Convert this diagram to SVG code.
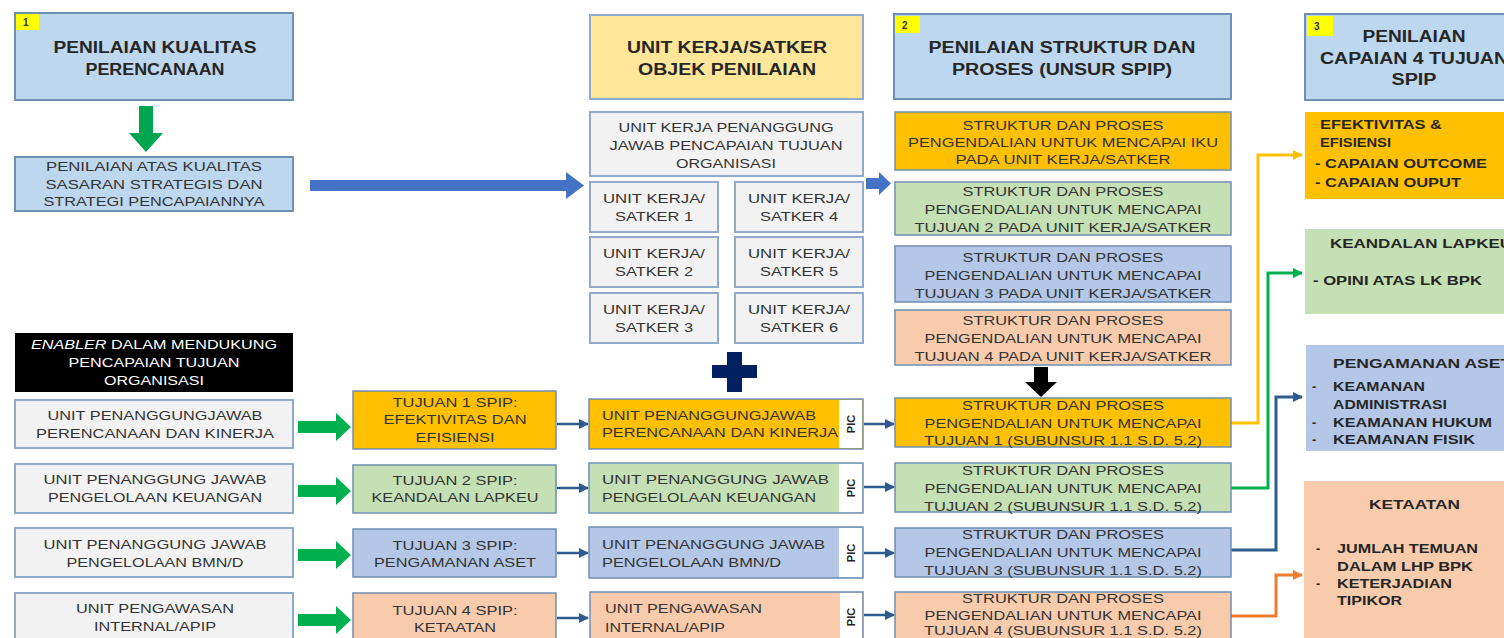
<svg xmlns="http://www.w3.org/2000/svg" width="1504" height="638" viewBox="0 0 1504 638">
<style>
.hb{fill:#BDD7EE;stroke:#6F8FB4;stroke-width:2}
.gd{fill:#FFE699;stroke:#8FAACC;stroke-width:2}
.gr{fill:#F2F2F2;stroke:#8FAACC;stroke-width:2}
.or{fill:#FFC000;stroke:#6F8FB4;stroke-width:1.5}
.gn{fill:#C5E0B4;stroke:#6F8FB4;stroke-width:1.5}
.bl{fill:#B4C7E7;stroke:#6F8FB4;stroke-width:1.5}
.pc{fill:#F8CBAD;stroke:#6F8FB4;stroke-width:1.5}
.badge{fill:#FFFF00}
text{font-family:"Liberation Sans",Arial,sans-serif;fill:#333}
.h{font-size:16px;font-weight:bold;text-anchor:middle;fill:#262626}
.t{font-size:13px;text-anchor:middle}
.l{font-size:13px}
.w{fill:#fff}
.b{font-size:12.5px;font-weight:bold;fill:#262626}
.n{font-size:10px;font-weight:bold;fill:#333}
.pic{font-size:11px;font-weight:bold;text-anchor:middle;fill:#222}
.thin{fill:none;stroke:#2F5C8F;stroke-width:2.5}
.c{fill:none;stroke-width:3}
</style>
<defs>
<marker id="ab" viewBox="0 0 10 10" refX="9" refY="5" markerWidth="4" markerHeight="4" orient="auto" markerUnits="strokeWidth"><path d="M0,0L10,5L0,10z" fill="#2F5C8F"/></marker>
<marker id="ay" viewBox="0 0 10 10" refX="9" refY="5" markerWidth="3.5" markerHeight="3.5" orient="auto" markerUnits="strokeWidth"><path d="M0,0L10,5L0,10z" fill="#FFC000"/></marker>
<marker id="ag" viewBox="0 0 10 10" refX="9" refY="5" markerWidth="3.5" markerHeight="3.5" orient="auto" markerUnits="strokeWidth"><path d="M0,0L10,5L0,10z" fill="#00B050"/></marker>
<marker id="an" viewBox="0 0 10 10" refX="9" refY="5" markerWidth="3.5" markerHeight="3.5" orient="auto" markerUnits="strokeWidth"><path d="M0,0L10,5L0,10z" fill="#2F5C8F"/></marker>
<marker id="ao" viewBox="0 0 10 10" refX="9" refY="5" markerWidth="3.5" markerHeight="3.5" orient="auto" markerUnits="strokeWidth"><path d="M0,0L10,5L0,10z" fill="#ED7D31"/></marker>
</defs>
<rect width="1504" height="638" fill="#fff"/>

<g id="connectors">
<polygon points="139,106 153,106 153,133 163,133 146,152 129,133 139,133" fill="#00A550"/>
<polygon points="310,180 566,180 566,172 584,185.5 566,199 566,191 310,191" fill="#4472C4"/>
<polygon points="866,178 879,178 879,172 891,183.5 879,195 879,189 866,189" fill="#4472C4"/>
<polygon points="1034,367 1048,367 1048,382 1057,382 1041,397 1025,382 1034,382" fill="#000"/>
<polygon points="727,352 742,352 742,365 757,365 757,378 742,378 742,392 727,392 727,378 712,378 712,365 727,365" fill="#002060"/>
<polygon points="298,421 336,421 336,413 351,427 336,441 336,433 298,433" fill="#00B050"/>
<polygon points="298,485 336,485 336,477 351,491 336,505 336,497 298,497" fill="#00B050"/>
<polygon points="298,549 336,549 336,541 351,555 336,569 336,561 298,561" fill="#00B050"/>
<polygon points="298,614 336,614 336,606 351,620 336,634 336,626 298,626" fill="#00B050"/>
<line class="thin" x1="557" y1="424" x2="588" y2="424" marker-end="url(#ab)"/>
<line class="thin" x1="557" y1="488" x2="588" y2="488" marker-end="url(#ab)"/>
<line class="thin" x1="557" y1="553" x2="588" y2="553" marker-end="url(#ab)"/>
<line class="thin" x1="557" y1="618" x2="588" y2="618" marker-end="url(#ab)"/>
<line class="thin" x1="864" y1="424" x2="894" y2="424" marker-end="url(#ab)"/>
<line class="thin" x1="864" y1="487" x2="894" y2="487" marker-end="url(#ab)"/>
<line class="thin" x1="864" y1="553" x2="894" y2="553" marker-end="url(#ab)"/>
<line class="thin" x1="864" y1="615" x2="894" y2="615" marker-end="url(#ab)"/>
<path class="c" stroke="#FFC000" d="M1231,423H1258V155H1302" marker-end="url(#ay)"/>
<path class="c" stroke="#00B050" d="M1231,488H1268V273H1302" marker-end="url(#ag)"/>
<path class="c" stroke="#2F5C8F" d="M1231,550H1276V397H1302" marker-end="url(#an)"/>
<path class="c" stroke="#ED7D31" d="M1231,616H1276V575H1302" marker-end="url(#ao)"/>
</g>

<g id="n-penilaian-kualitas">
<rect class="hb" x="15" y="13" width="278" height="87"/>
<rect class="badge" x="16" y="14" width="23" height="16"/>
<text class="n" x="23" y="26">1</text>
<text class="h" x="155" y="53" textLength="203" lengthAdjust="spacingAndGlyphs">PENILAIAN KUALITAS</text>
<text class="h" x="155" y="75" textLength="139" lengthAdjust="spacingAndGlyphs">PERENCANAAN</text>
</g>
<g id="n-sasaran">
<rect class="hb" x="15" y="157" width="278" height="54"/>
<text class="t" x="154" y="171" textLength="216" lengthAdjust="spacingAndGlyphs">PENILAIAN ATAS KUALITAS</text>
<text class="t" x="154" y="189" textLength="217" lengthAdjust="spacingAndGlyphs">SASARAN STRATEGIS DAN</text>
<text class="t" x="154" y="206" textLength="221" lengthAdjust="spacingAndGlyphs">STRATEGI PENCAPAIANNYA</text>
</g>

<g id="n-objek">
<rect class="gd" x="590" y="15" width="273" height="84"/>
<text class="h" x="727" y="53" textLength="200" lengthAdjust="spacingAndGlyphs">UNIT KERJA/SATKER</text>
<text class="h" x="727" y="75" textLength="178" lengthAdjust="spacingAndGlyphs">OBJEK PENILAIAN</text>
</g>
<g id="n-penanggung">
<rect class="gr" x="590" y="112" width="273" height="64"/>
<text class="t" x="726" y="132" textLength="215" lengthAdjust="spacingAndGlyphs">UNIT KERJA PENANGGUNG</text>
<text class="t" x="726" y="150" textLength="233" lengthAdjust="spacingAndGlyphs">JAWAB PENCAPAIAN  TUJUAN</text>
<text class="t" x="726" y="168" textLength="100" lengthAdjust="spacingAndGlyphs">ORGANISASI</text>
</g>
<g id="n-satker1"><rect class="gr" x="590" y="182" width="128" height="50"/>
<text class="t" x="654" y="203" textLength="102" lengthAdjust="spacingAndGlyphs">UNIT KERJA/</text>
<text class="t" x="654" y="221" textLength="78" lengthAdjust="spacingAndGlyphs">SATKER 1</text></g>
<g id="n-satker2"><rect class="gr" x="590" y="237" width="128" height="50"/>
<text class="t" x="654" y="258" textLength="102" lengthAdjust="spacingAndGlyphs">UNIT KERJA/</text>
<text class="t" x="654" y="276" textLength="78" lengthAdjust="spacingAndGlyphs">SATKER 2</text></g>
<g id="n-satker3"><rect class="gr" x="590" y="293" width="128" height="50"/>
<text class="t" x="654" y="314" textLength="102" lengthAdjust="spacingAndGlyphs">UNIT KERJA/</text>
<text class="t" x="654" y="332" textLength="78" lengthAdjust="spacingAndGlyphs">SATKER 3</text></g>
<g id="n-satker4"><rect class="gr" x="735" y="182" width="128" height="50"/>
<text class="t" x="799" y="203" textLength="102" lengthAdjust="spacingAndGlyphs">UNIT KERJA/</text>
<text class="t" x="799" y="221" textLength="78" lengthAdjust="spacingAndGlyphs">SATKER 4</text></g>
<g id="n-satker5"><rect class="gr" x="735" y="237" width="128" height="50"/>
<text class="t" x="799" y="258" textLength="102" lengthAdjust="spacingAndGlyphs">UNIT KERJA/</text>
<text class="t" x="799" y="276" textLength="78" lengthAdjust="spacingAndGlyphs">SATKER 5</text></g>
<g id="n-satker6"><rect class="gr" x="735" y="293" width="128" height="50"/>
<text class="t" x="799" y="314" textLength="102" lengthAdjust="spacingAndGlyphs">UNIT KERJA/</text>
<text class="t" x="799" y="332" textLength="78" lengthAdjust="spacingAndGlyphs">SATKER 6</text></g>

<g id="n-struktur-header">
<rect class="hb" x="894" y="14" width="337" height="85"/>
<rect class="badge" x="895" y="16" width="25" height="17"/>
<text class="n" x="902" y="29">2</text>
<text class="h" x="1062" y="53" textLength="267" lengthAdjust="spacingAndGlyphs">PENILAIAN STRUKTUR DAN</text>
<text class="h" x="1062" y="75" textLength="220" lengthAdjust="spacingAndGlyphs">PROSES (UNSUR SPIP)</text>
</g>
<g id="n-struktur-iku">
<rect class="or" x="895" y="112" width="336" height="58"/>
<text class="t" x="1063" y="130" textLength="201" lengthAdjust="spacingAndGlyphs">STRUKTUR DAN PROSES</text>
<text class="t" x="1063" y="147" textLength="310" lengthAdjust="spacingAndGlyphs">PENGENDALIAN UNTUK MENCAPAI IKU</text>
<text class="t" x="1063" y="164" textLength="215" lengthAdjust="spacingAndGlyphs">PADA UNIT KERJA/SATKER</text>
</g>
<g id="n-struktur-t2">
<rect class="gn" x="895" y="182" width="336" height="53"/>
<text class="t" x="1063" y="196" textLength="201" lengthAdjust="spacingAndGlyphs">STRUKTUR DAN PROSES</text>
<text class="t" x="1063" y="214" textLength="277" lengthAdjust="spacingAndGlyphs">PENGENDALIAN UNTUK MENCAPAI</text>
<text class="t" x="1063" y="232" textLength="297" lengthAdjust="spacingAndGlyphs">TUJUAN 2 PADA UNIT KERJA/SATKER</text>
</g>
<g id="n-struktur-t3">
<rect class="bl" x="895" y="246" width="336" height="56"/>
<text class="t" x="1063" y="262" textLength="201" lengthAdjust="spacingAndGlyphs">STRUKTUR DAN PROSES</text>
<text class="t" x="1063" y="280" textLength="277" lengthAdjust="spacingAndGlyphs">PENGENDALIAN UNTUK MENCAPAI</text>
<text class="t" x="1063" y="298" textLength="297" lengthAdjust="spacingAndGlyphs">TUJUAN 3 PADA UNIT KERJA/SATKER</text>
</g>
<g id="n-struktur-t4">
<rect class="pc" x="895" y="310" width="336" height="55"/>
<text class="t" x="1063" y="325" textLength="201" lengthAdjust="spacingAndGlyphs">STRUKTUR DAN PROSES</text>
<text class="t" x="1063" y="343" textLength="277" lengthAdjust="spacingAndGlyphs">PENGENDALIAN UNTUK MENCAPAI</text>
<text class="t" x="1063" y="361" textLength="297" lengthAdjust="spacingAndGlyphs">TUJUAN 4 PADA UNIT KERJA/SATKER</text>
</g>

<g id="n-capaian-header">
<rect class="hb" x="1305" y="14" width="230" height="86"/>
<rect class="badge" x="1307" y="16" width="26" height="20"/>
<text class="n" x="1314" y="30">3</text>
<text class="h" x="1414" y="42" textLength="103" lengthAdjust="spacingAndGlyphs">PENILAIAN</text>
<text class="h" x="1414" y="64" textLength="188" lengthAdjust="spacingAndGlyphs">CAPAIAN 4 TUJUAN</text>
<text class="h" x="1414" y="85" textLength="45" lengthAdjust="spacingAndGlyphs">SPIP</text>
</g>
<g id="n-efektivitas">
<rect x="1305" y="112" width="230" height="87" fill="#FFC000"/>
<text class="b" x="1320" y="129" textLength="122" lengthAdjust="spacingAndGlyphs">EFEKTIVITAS &amp;</text>
<text class="b" x="1320" y="147" textLength="71" lengthAdjust="spacingAndGlyphs">EFISIENSI</text>
<text class="b" x="1315" y="168" textLength="172" lengthAdjust="spacingAndGlyphs">- CAPAIAN OUTCOME</text>
<text class="b" x="1315" y="187" textLength="146" lengthAdjust="spacingAndGlyphs">- CAPAIAN OUPUT</text>
</g>
<g id="n-keandalan">
<rect x="1305" y="229" width="230" height="85" fill="#C5E0B4"/>
<text class="b" x="1330" y="248" textLength="182" lengthAdjust="spacingAndGlyphs">KEANDALAN LAPKEU</text>
<text class="b" x="1313" y="285" textLength="169" lengthAdjust="spacingAndGlyphs">- OPINI ATAS LK BPK</text>
</g>
<g id="n-pengamanan">
<rect x="1306" y="345" width="230" height="106" fill="#B4C7E7"/>
<text class="b" x="1333" y="368" textLength="178" lengthAdjust="spacingAndGlyphs">PENGAMANAN ASET</text>
<text class="b" x="1312" y="391">-</text>
<text class="b" x="1333" y="391" textLength="92" lengthAdjust="spacingAndGlyphs">KEAMANAN</text>
<text class="b" x="1333" y="409" textLength="114" lengthAdjust="spacingAndGlyphs">ADMINISTRASI</text>
<text class="b" x="1312" y="427">-</text>
<text class="b" x="1333" y="427" textLength="159" lengthAdjust="spacingAndGlyphs">KEAMANAN HUKUM</text>
<text class="b" x="1312" y="444">-</text>
<text class="b" x="1333" y="444" textLength="142" lengthAdjust="spacingAndGlyphs">KEAMANAN FISIK</text>
</g>
<g id="n-ketaatan">
<rect x="1304" y="481" width="232" height="160" fill="#F8CBAD"/>
<text class="b" x="1369" y="509" textLength="91" lengthAdjust="spacingAndGlyphs">KETAATAN</text>
<text class="b" x="1316" y="553">-</text>
<text class="b" x="1337" y="553" textLength="141" lengthAdjust="spacingAndGlyphs">JUMLAH TEMUAN</text>
<text class="b" x="1337" y="571" textLength="136" lengthAdjust="spacingAndGlyphs">DALAM LHP BPK</text>
<text class="b" x="1316" y="588">-</text>
<text class="b" x="1337" y="588" textLength="115" lengthAdjust="spacingAndGlyphs">KETERJADIAN</text>
<text class="b" x="1337" y="605" textLength="65" lengthAdjust="spacingAndGlyphs">TIPIKOR</text>
</g>

<g id="n-enabler">
<rect x="15" y="333" width="278" height="59" fill="#000"/>
<text class="t w" x="154" y="349" textLength="246" lengthAdjust="spacingAndGlyphs"><tspan font-style="italic">ENABLER</tspan> DALAM MENDUKUNG</text>
<text class="t w" x="154" y="367" textLength="171" lengthAdjust="spacingAndGlyphs">PENCAPAIAN  TUJUAN</text>
<text class="t w" x="154" y="385" textLength="100" lengthAdjust="spacingAndGlyphs">ORGANISASI</text>
</g>
<g id="n-unit-perencanaan">
<rect class="gr" x="15" y="400" width="278" height="48"/>
<text class="t" x="155" y="420" textLength="215" lengthAdjust="spacingAndGlyphs">UNIT PENANGGUNGJAWAB</text>
<text class="t" x="155" y="438" textLength="238" lengthAdjust="spacingAndGlyphs">PERENCANAAN  DAN KINERJA</text>
</g>
<g id="n-unit-keuangan">
<rect class="gr" x="15" y="464" width="278" height="49"/>
<text class="t" x="155" y="484" textLength="223" lengthAdjust="spacingAndGlyphs">UNIT PENANGGUNG  JAWAB</text>
<text class="t" x="155" y="502" textLength="214" lengthAdjust="spacingAndGlyphs">PENGELOLAAN KEUANGAN</text>
</g>
<g id="n-unit-bmn">
<rect class="gr" x="15" y="528" width="278" height="49"/>
<text class="t" x="155" y="549" textLength="223" lengthAdjust="spacingAndGlyphs">UNIT PENANGGUNG  JAWAB</text>
<text class="t" x="155" y="567" textLength="177" lengthAdjust="spacingAndGlyphs">PENGELOLAAN BMN/D</text>
</g>
<g id="n-unit-apip">
<rect class="gr" x="15" y="593" width="278" height="50"/>
<text class="t" x="155" y="613" textLength="158" lengthAdjust="spacingAndGlyphs">UNIT PENGAWASAN</text>
<text class="t" x="155" y="631" textLength="122" lengthAdjust="spacingAndGlyphs">INTERNAL/APIP</text>
</g>

<g id="n-tujuan1">
<rect class="or" x="353" y="391" width="203" height="58"/>
<text class="t" x="455" y="407" textLength="125" lengthAdjust="spacingAndGlyphs">TUJUAN  1 SPIP:</text>
<text class="t" x="455" y="424" textLength="143" lengthAdjust="spacingAndGlyphs">EFEKTIVITAS DAN</text>
<text class="t" x="455" y="442" textLength="79" lengthAdjust="spacingAndGlyphs">EFISIENSI</text>
</g>
<g id="n-tujuan2">
<rect class="gn" x="353" y="465" width="203" height="48"/>
<text class="t" x="455" y="485" textLength="125" lengthAdjust="spacingAndGlyphs">TUJUAN  2 SPIP:</text>
<text class="t" x="455" y="502" textLength="167" lengthAdjust="spacingAndGlyphs">KEANDALAN  LAPKEU</text>
</g>
<g id="n-tujuan3">
<rect class="bl" x="353" y="529" width="203" height="48"/>
<text class="t" x="455" y="550" textLength="125" lengthAdjust="spacingAndGlyphs">TUJUAN  3 SPIP:</text>
<text class="t" x="455" y="567" textLength="162" lengthAdjust="spacingAndGlyphs">PENGAMANAN  ASET</text>
</g>
<g id="n-tujuan4">
<rect class="pc" x="353" y="593" width="203" height="50"/>
<text class="t" x="455" y="615" textLength="125" lengthAdjust="spacingAndGlyphs">TUJUAN  4 SPIP:</text>
<text class="t" x="455" y="632" textLength="82" lengthAdjust="spacingAndGlyphs">KETAATAN</text>
</g>

<g id="n-pic1">
<rect class="or" x="589" y="399" width="274" height="50"/>
<rect x="839" y="400" width="23" height="48" fill="#fff"/>
<text class="l" x="602" y="420" textLength="214" lengthAdjust="spacingAndGlyphs">UNIT PENANGGUNGJAWAB</text>
<text class="l" x="602" y="437" textLength="236" lengthAdjust="spacingAndGlyphs">PERENCANAAN  DAN KINERJA</text>
<text class="pic" transform="translate(855,424) rotate(-90)">PIC</text>
</g>
<g id="n-pic2">
<rect class="gn" x="589" y="463" width="274" height="50"/>
<rect x="839" y="464" width="23" height="48" fill="#fff"/>
<text class="l" x="602" y="484" textLength="227" lengthAdjust="spacingAndGlyphs">UNIT  PENANGGUNG  JAWAB</text>
<text class="l" x="602" y="502" textLength="214" lengthAdjust="spacingAndGlyphs">PENGELOLAAN KEUANGAN</text>
<text class="pic" transform="translate(855,488) rotate(-90)">PIC</text>
</g>
<g id="n-pic3">
<rect class="bl" x="589" y="527" width="274" height="51"/>
<rect x="839" y="528" width="23" height="49" fill="#fff"/>
<text class="l" x="602" y="549" textLength="223" lengthAdjust="spacingAndGlyphs">UNIT PENANGGUNG  JAWAB</text>
<text class="l" x="602" y="567" textLength="179" lengthAdjust="spacingAndGlyphs">PENGELOLAAN BMN/D</text>
<text class="pic" transform="translate(855,553) rotate(-90)">PIC</text>
</g>
<g id="n-pic4">
<rect class="pc" x="590" y="592" width="273" height="50"/>
<rect x="840" y="593" width="22" height="48" fill="#fff"/>
<text class="l" x="605" y="613" textLength="157" lengthAdjust="spacingAndGlyphs">UNIT PENGAWASAN</text>
<text class="l" x="605" y="632" textLength="120" lengthAdjust="spacingAndGlyphs">INTERNAL/APIP</text>
<text class="pic" transform="translate(855,617) rotate(-90)">PIC</text>
</g>

<g id="n-sp1">
<rect class="or" x="895" y="398" width="336" height="49"/>
<text class="t" x="1063" y="410" textLength="202" lengthAdjust="spacingAndGlyphs">STRUKTUR DAN PROSES</text>
<text class="t" x="1063" y="428" textLength="277" lengthAdjust="spacingAndGlyphs">PENGENDALIAN UNTUK MENCAPAI</text>
<text class="t" x="1063" y="445" textLength="278" lengthAdjust="spacingAndGlyphs">TUJUAN  1 (SUBUNSUR  1.1 S.D. 5.2)</text>
</g>
<g id="n-sp2">
<rect class="gn" x="895" y="463" width="336" height="49"/>
<text class="t" x="1063" y="475" textLength="202" lengthAdjust="spacingAndGlyphs">STRUKTUR DAN PROSES</text>
<text class="t" x="1063" y="493" textLength="277" lengthAdjust="spacingAndGlyphs">PENGENDALIAN UNTUK MENCAPAI</text>
<text class="t" x="1063" y="511" textLength="278" lengthAdjust="spacingAndGlyphs">TUJUAN  2 (SUBUNSUR  1.1 S.D. 5.2)</text>
</g>
<g id="n-sp3">
<rect class="bl" x="895" y="528" width="336" height="49"/>
<text class="t" x="1063" y="539" textLength="202" lengthAdjust="spacingAndGlyphs">STRUKTUR DAN PROSES</text>
<text class="t" x="1063" y="557" textLength="277" lengthAdjust="spacingAndGlyphs">PENGENDALIAN UNTUK MENCAPAI</text>
<text class="t" x="1063" y="575" textLength="278" lengthAdjust="spacingAndGlyphs">TUJUAN  3 (SUBUNSUR  1.1 S.D. 5.2)</text>
</g>
<g id="n-sp4">
<rect class="pc" x="895" y="592" width="336" height="50"/>
<text class="t" x="1063" y="603" textLength="202" lengthAdjust="spacingAndGlyphs">STRUKTUR DAN PROSES</text>
<text class="t" x="1063" y="620" textLength="277" lengthAdjust="spacingAndGlyphs">PENGENDALIAN UNTUK MENCAPAI</text>
<text class="t" x="1063" y="635" textLength="278" lengthAdjust="spacingAndGlyphs">TUJUAN  4 (SUBUNSUR  1.1 S.D. 5.2)</text>
</g>
</svg>
